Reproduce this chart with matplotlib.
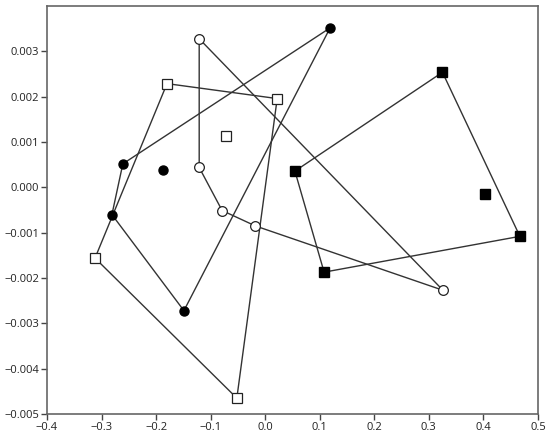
import matplotlib
matplotlib.use("Agg")
import matplotlib.pyplot as plt

# filled circles: hull points in order, plus one interior point
fc_x = [0.119, -0.261, -0.281, -0.149]
fc_y = [0.00352, 0.00052, -0.00060, -0.00272]
fc_in_x = [-0.188]
fc_in_y = [0.00039]

# open circles
oc_x = [-0.121, -0.121, -0.079, -0.018, 0.326]
oc_y = [0.00328, 0.00044, -0.00051, -0.00085, -0.00227]

# open squares
os_x = [-0.180, 0.022, -0.052, -0.312]
os_y = [0.00229, 0.00196, -0.00465, -0.00156]
os_in_x = [-0.071]
os_in_y = [0.00114]

# filled squares
fs_x = [0.0545, 0.325, 0.467, 0.108]
fs_y = [0.00036, 0.00254, -0.00108, -0.00187]
fs_in_x = [0.403]
fs_in_y = [-0.00015]

xticks = [-0.4, -0.3, -0.2, -0.1, 0.0, 0.1, 0.2, 0.3, 0.4, 0.5]
yticks = [-0.005, -0.004, -0.003, -0.002, -0.001, 0.000, 0.001, 0.002, 0.003]

plt.rcParams['font.family'] = ['Open Sans', 'DejaVu Sans']
fig = plt.figure(figsize=(5.5, 4.38), dpi=100)
ax = fig.add_axes([0.0855, 0.0548, 0.8925, 0.9312])

line_kw = dict(color='#333333', linewidth=1.0, zorder=1)


def closed(v):
    return list(v) + [v[0]]


# hull outlines
ax.plot(closed(fc_x), closed(fc_y), **line_kw)
ax.plot(closed(oc_x), closed(oc_y), **line_kw)
ax.plot(closed(os_x), closed(os_y), **line_kw)
ax.plot(closed(fs_x), closed(fs_y), **line_kw)

# markers
ax.plot(fc_x + fc_in_x, fc_y + fc_in_y, 'o', color='black', markersize=6.5, zorder=3)
ax.plot(oc_x, oc_y, 'o', markerfacecolor='white', markeredgecolor='#222222',
        markeredgewidth=0.9, markersize=7, zorder=3)
ax.plot(os_x + os_in_x, os_y + os_in_y, 's', markerfacecolor='white',
        markeredgecolor='#222222', markeredgewidth=0.9, markersize=7, zorder=3)
ax.plot(fs_x + fs_in_x, fs_y + fs_in_y, 's', color='black', markersize=7, zorder=3)

ax.set_xlim(-0.4, 0.5)
ax.set_ylim(-0.005, 0.004)
ax.set_xticks(xticks)
ax.set_xticklabels([f"{t:.1f}".replace('-', '\u2212') for t in xticks])
ax.set_yticks(yticks)
ax.set_yticklabels([f"{t:.3f}".replace('-', '\u2212') if t != 0 else "0.000" for t in yticks])

for s in ax.spines.values():
    s.set_color('#666666')
    s.set_linewidth(1.2)
ax.tick_params(direction='out', length=4, width=1, color='#444444',
               labelsize=8, labelcolor='#222222', pad=1.5)

fig.savefig("out.png", dpi=100)
